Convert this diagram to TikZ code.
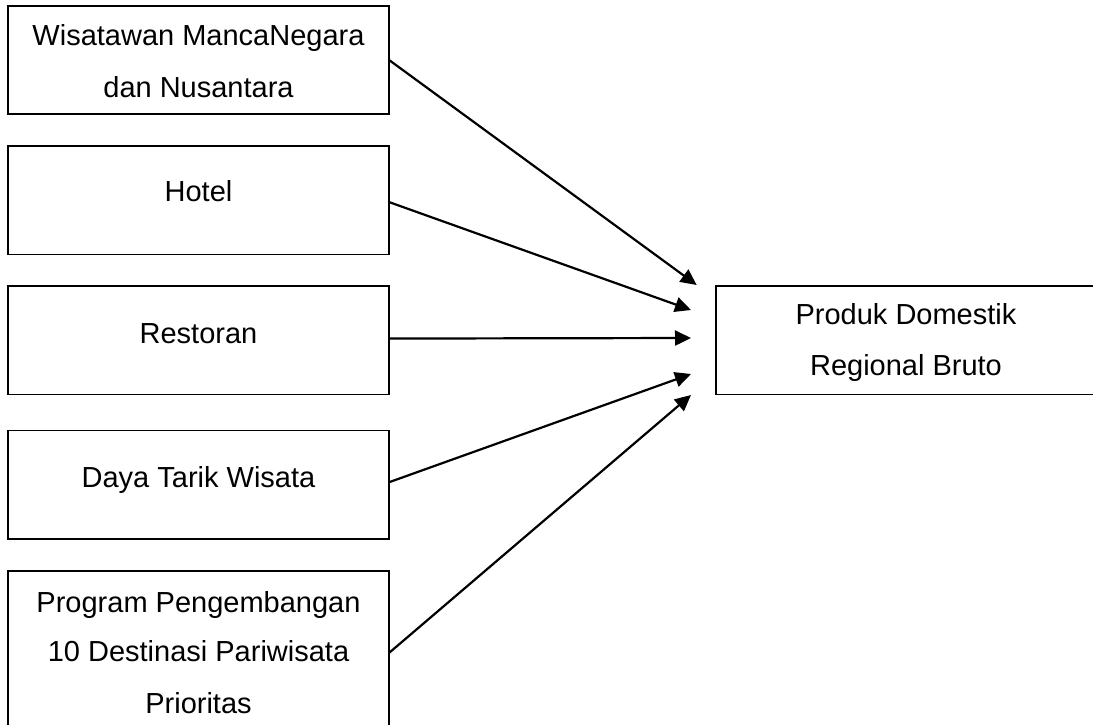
\documentclass[tikz,border=0pt]{standalone}
\usepackage{fontspec}
\setmainfont{Liberation Sans}
\usetikzlibrary{arrows.meta}
\begin{document}
\begin{tikzpicture}[x=1pt,y=-1pt,
  box/.style={draw=black,line width=1.6pt,inner sep=0pt,outer sep=0pt,minimum width=381pt,anchor=north west},
  txt/.style={inner sep=0pt,anchor=base,font=\fontsize{29pt}{34pt}\selectfont},
  arr/.style={line width=2.2pt,-{Triangle[length=16pt,width=15pt]}}]
\useasboundingbox (0,0) rectangle (1093,724);
% left boxes
\node[box,minimum height=108.5pt] (b1) at (8,5.7) {};
\node[box,minimum height=108.5pt] (b2) at (8,145.8) {};
\node[box,minimum height=108.5pt] (b3) at (8,286) {};
\node[box,minimum height=108.5pt] (b4) at (8,430.5) {};
\node[box,minimum height=164.5pt] (b5) at (8,570.7) {};
% right box
\node[box,minimum width=381pt,minimum height=108.5pt] (pd) at (716,286) {};
% texts
\node[txt] (t1a) at (198.5,45) {Wisatawan MancaNegara};
\node[txt] (t1b) at (198.5,97) {dan Nusantara};
\node[txt] (t2) at (198.5,201.7) {Hotel};
\node[txt] (t3) at (198.5,343) {Restoran};
\node[txt] (t4) at (198.5,487.7) {Daya Tarik Wisata};
\node[txt] (t5a) at (198.5,612) {Program Pengembangan};
\node[txt] (t5b) at (198.5,661) {10 Destinasi Pariwisata};
\node[txt] (t5c) at (198.5,713) {Prioritas};
\node[txt] (pda) at (906,324) {Produk Domestik};
\node[txt] (pdb) at (906,375) {Regional Bruto};
% arrow tips
\coordinate (e1) at (696.7,285);
\coordinate (e2) at (691,310);
\coordinate (e3) at (691,338);
\coordinate (e4) at (691,374);
\coordinate (e5) at (691,395);
\draw[arr] (b1.east) -- (e1);
\draw[arr] ([yshift=-2pt]b2.east) -- (e2);
\draw[arr] ([yshift=1.7pt]b3.east) -- (e3);
\draw[arr] ([yshift=2.5pt]b4.east) -- (e4);
\draw[arr] (b5.east) -- (e5);
\end{tikzpicture}
\end{document}
